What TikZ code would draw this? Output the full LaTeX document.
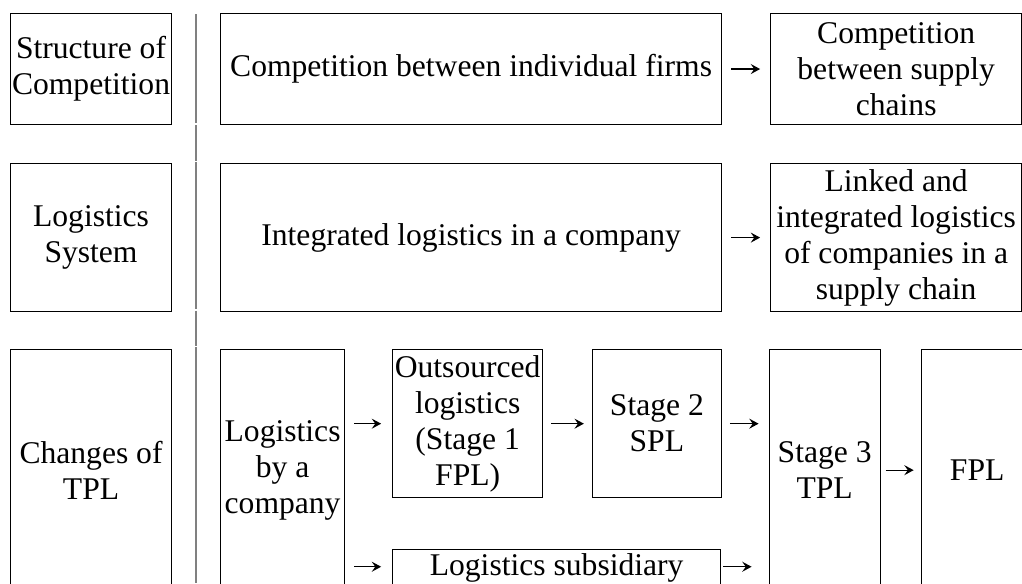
\documentclass[tikz,border=0pt]{standalone}
\usepackage{fontspec}
\setmainfont{Liberation Serif}
\usepackage{tikz}
\usetikzlibrary{arrows.meta, positioning}

\begin{document}
\begin{tikzpicture}[>={Stealth[length=7pt, width=7.5pt, inset=2.6pt]},
    box/.style={draw, line width=0.8pt, rectangle, align=center, inner sep=0pt,
        font=\fontsize{23.7}{27}\selectfont},
    arr/.style={->, line width=1pt, shorten <=6.75pt, shorten >=7.5pt},
    sepline/.style={draw=gray, line width=1.5pt},
    node distance=28.5pt and 36.75pt
]
    \useasboundingbox (0,0) rectangle (766.5pt,-437.25pt);
    \clip (0,0) rectangle (766.5pt,-437.25pt);

    % Nodes, first row
    \node[box, minimum width=120.75pt, minimum height=83.25pt, anchor=north west] (struct) at (7.5pt,-9.75pt) {Structure of\\Competition};
    \node[box, minimum width=375.75pt, minimum height=83.25pt, right=36pt of struct] (firms) {Competition between individual firms};
    \node[box, minimum width=188.25pt, minimum height=83.25pt, right=36pt of firms] (chains) {Competition\\between supply\\chains};

    % Second row
    \node[box, minimum width=120.75pt, minimum height=111pt, below=28.5pt of struct] (logsys) {Logistics\\System};
    \node[box, minimum width=375.75pt, minimum height=111pt, right=36pt of logsys] (intlog) {Integrated logistics in a company};
    \node[box, minimum width=188.25pt, minimum height=111pt, right=36pt of intlog] (linked) {Linked and\\integrated logistics\\of companies in a\\supply chain};

    % Third row
    \node[box, minimum width=120.75pt, minimum height=180.75pt, below=27.75pt of logsys] (changes) {Changes of\\TPL};
    \node[box, minimum width=93pt, minimum height=180.75pt, right=36pt of changes] (lbc) {Logistics\\by a\\company};
    \node[box, minimum width=112.5pt, minimum height=111pt, below right=0pt and 35.25pt of lbc.north east] (outs) {Outsourced\\logistics\\(Stage 1\\FPL)};
    \node[box, minimum width=96.75pt, minimum height=111pt, right=36.5pt of outs] (spl) {Stage 2\\SPL};
    \node[box, minimum width=83.25pt, minimum height=180.75pt, below right=0pt and 35pt of spl.north east] (tpl) {Stage 3\\TPL};
    \node[box, minimum width=84pt, minimum height=180.75pt, right=30pt of tpl] (fpl) {FPL};
    \node[box, minimum width=246pt, text height=19.5pt, text depth=12pt, below=38.25pt of outs.south west, anchor=north west] (subs) {Logistics subsidiary};

    % Separator
    \foreach \ya/\yb in {10.5/92.6, 93.8/120.4, 121.6/231.8, 233/259.5, 260.6/437.25}
        \draw[sepline] (147pt,-\ya pt) -- (147pt,-\yb pt);

    % Lines
    \draw[arr] (firms) -- (chains);
    \draw[arr] (intlog) -- (linked);
    \draw[arr, shorten >=8.25pt] (lbc.east |- outs.west) -- (outs.west);
    \draw[arr, shorten <=6pt, shorten >=6pt] (outs) -- (spl);
    \draw[arr, shorten <=6pt] (spl.east) -- (spl.east -| tpl.west);
    \draw[arr, shorten <=3.75pt, shorten >=5.25pt] (tpl) -- (fpl);
    \draw[arr, shorten >=8.25pt] ([yshift=3pt]lbc.east |- subs.west) -- ([yshift=3pt]subs.west);
    \draw[arr, shorten <=1.5pt, shorten >=12.75pt] ([yshift=3pt]subs.east) -- ([yshift=3pt]subs.east -| tpl.west);
\end{tikzpicture}
\end{document}
